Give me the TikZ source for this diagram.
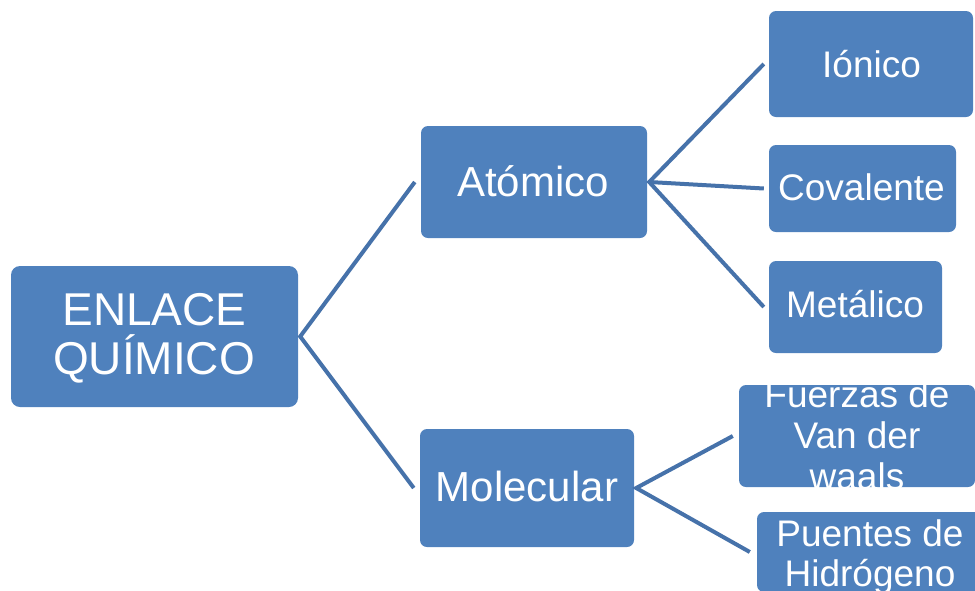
\documentclass[tikz,border=0pt]{standalone}
\usepackage{fontspec}
\setmainfont{Liberation Sans}
\definecolor{boxblue}{HTML}{4F81BD}
\definecolor{linkblue}{HTML}{4672AA}
\tikzset{
  box/.style={draw=none, fill=boxblue, rounded corners=7pt, inner sep=0pt, anchor=center},
  label/.style={text=white, anchor=base, inner sep=0pt},
  big/.style={font=\fontsize{46}{50}\selectfont},
  mid/.style={font=\fontsize{42}{48}\selectfont},
  small/.style={font=\fontsize{37}{41}\selectfont},
  link/.style={draw=linkblue, line width=4pt, line join=miter},
}
\begin{document}
\begin{tikzpicture}[x=1pt,y=-1pt]
\useasboundingbox (0,0) rectangle (975,590);
% boxes
\node[box, minimum width=287pt, minimum height=141pt, rounded corners=9pt] (enl) at (154.5,336.5) {};
\node[box, minimum width=226pt, minimum height=112pt] (atom) at (534,182) {};
\node[box, minimum width=214pt, minimum height=118pt] (mol) at (527,488) {};
\node[box, minimum width=204pt, minimum height=106pt] (ion) at (871,64) {};
\node[box, minimum width=187pt, minimum height=87pt] (cov) at (862.5,188.5) {};
\node[box, minimum width=173pt, minimum height=92pt] (met) at (855.5,307) {};
\node[box, minimum width=236pt, minimum height=102pt] (fue) at (857,436) {};
\node[box, minimum width=226pt, minimum height=80pt] (pue) at (870,552) {};
% texts
\node[label, big] (enlA) at (154.5,325) {ENLACE};
\node[label, big] (enlB) at (154,374) {QUÍMICO};
\node[label, mid] (atomT) at (533,196) {Atómico};
\node[label, mid] (molT) at (527,501) {Molecular};
\node[label, small] (ionT) at (871.5,77) {Iónico};
\node[label, small] (covT) at (861.5,200) {Covalente};
\node[label, small] (metT) at (855,317) {Metálico};
\node[label, small] (fueA) at (857,407) {Fuerzas de};
\node[label, small] (fueB) at (857,448) {Van der};
\node[label, small] (fueC) at (857,489) {waals};
\node[label, small] (pueA) at (870,546) {Puentes de};
\node[label, small] (pueB) at (870,586) {Hidrógeno};
% connectors
\draw[link] ([xshift=-6pt]atom.west) -- ([xshift=2pt]enl.east) -- ([xshift=-6pt]mol.west);
\draw[link] ([xshift=-5pt]ion.west) -- ([xshift=2pt]atom.east) -- ([xshift=-5pt]met.west);
\draw[link] ([xshift=2pt]atom.east) -- ([xshift=-5pt]cov.west);
\draw[link] ([xshift=-6pt]fue.west) -- ([xshift=2pt]mol.east) -- ([xshift=-7pt]pue.west);
\end{tikzpicture}
\end{document}
